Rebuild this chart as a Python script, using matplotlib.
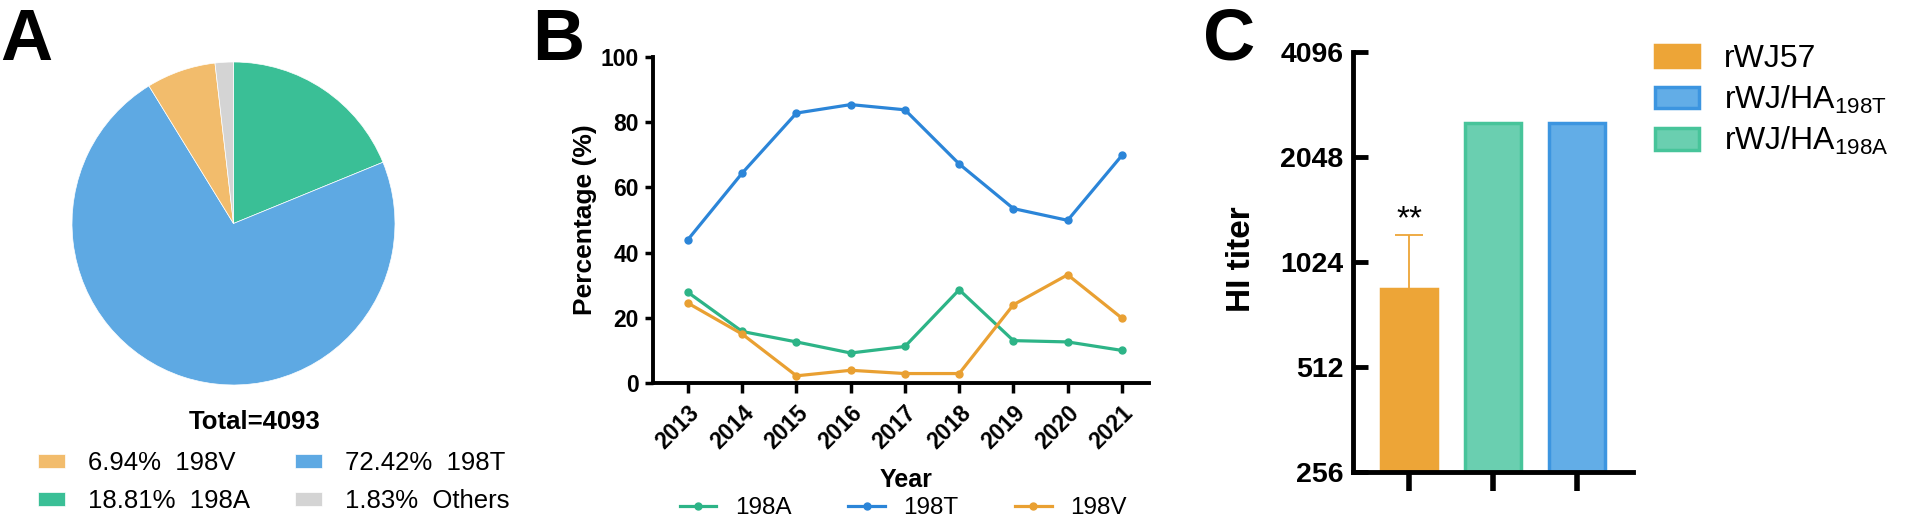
import matplotlib
matplotlib.use('Agg')
from matplotlib import pyplot as plt
from matplotlib.ticker import NullLocator

plt.rcParams['font.family'] = ['Liberation Sans', 'DejaVu Sans']
plt.rcParams['mathtext.default'] = 'regular'

# panel A - share of residue 198 variants
pie_names = ['198A', '198T', '198V', 'Others']
pie_pct = [18.81, 72.42, 6.94, 1.83]
pie_colors = ['#3abf96', '#5ea9e3', '#f2bc6c', '#d4d4d4']
total_n = 4093

# panel B - yearly percentage
years = [2013, 2014, 2015, 2016, 2017, 2018, 2019, 2020, 2021]
pct_198A = [27.8, 15.8, 12.6, 9.2, 11.2, 28.6, 13.0, 12.6, 10.0]
pct_198T = [44.0, 64.4, 82.8, 85.4, 83.8, 67.2, 53.5, 49.9, 69.8]
pct_198V = [24.5, 15.0, 2.2, 3.9, 2.9, 2.9, 24.0, 33.2, 19.9]

# panel C - HI titers
viruses = ['rWJ57', 'rWJ/HA$_{198A}$', 'rWJ/HA$_{198T}$']
hi_mean = [853, 2560, 2560]
hi_sd = [366, 0, 0]
hi_ticks = [256, 512, 1024, 2048, 4096]

W, H = 1908, 521
def fx(px):
    return px / W
def fy(py):
    return 1 - py / H

fig = plt.figure(figsize=(W / 100, H / 100), dpi=100)

# ---------- A ----------
ax_a = fig.add_axes([fx(72), fy(385), 323 / W, 323 / H])
wedges, _ = ax_a.pie(pie_pct, colors=pie_colors, startangle=90, counterclock=False,
                     wedgeprops=dict(edgecolor='white', linewidth=0.5))
ax_a.set_xlim(-1, 1)
ax_a.set_ylim(-1, 1)
fig.text(fx(255), fy(422), 'Total=%d' % total_n, ha='center', va='center',
         fontsize=18.5, fontweight='bold')
order = [2, 0, 1, 3]
fig.legend([wedges[i] for i in order],
           ['%.2f%%  %s' % (pie_pct[i], pie_names[i]) for i in order],
           loc='upper left', bbox_to_anchor=(fx(38), fy(451)), ncol=2, frameon=False,
           fontsize=18.5, handlelength=1.05, handleheight=0.47, handletextpad=0.9,
           columnspacing=1.75, labelspacing=0.55, borderpad=0, borderaxespad=0)

# ---------- B ----------
ax_b = fig.add_axes([fx(653), fy(383), 496 / W, 326 / H])
line_cols = {'198A': '#2db487', '198T': '#2b85d8', '198V': '#e9a032'}
for name, vals in [('198A', pct_198A), ('198T', pct_198T), ('198V', pct_198V)]:
    ax_b.plot(years, vals, color=line_cols[name], lw=2.3, marker='o', ms=5, label=name)
ax_b.set_xlim(2012.355, 2021.5)
ax_b.set_ylim(0, 100)
ax_b.set_yticks([0, 20, 40, 60, 80, 100])
ax_b.set_xticks(years)
for s in ['top', 'right']:
    ax_b.spines[s].set_visible(False)
for s in ['left', 'bottom']:
    ax_b.spines[s].set_linewidth(2.8)
ax_b.tick_params(axis='y', length=6, width=2.5, pad=4, labelsize=16.5)
ax_b.tick_params(axis='x', length=7, width=2.5, pad=6, labelsize=16.5)
for lab in ax_b.get_yticklabels():
    lab.set_fontweight('bold')
for lab in ax_b.get_xticklabels():
    lab.set_fontweight('bold')
    lab.set_rotation(45)
    lab.set_ha('right')
    lab.set_va('top')
    lab.set_rotation_mode('anchor')
ax_b.set_ylabel('Percentage (%)', fontsize=19, fontweight='bold')
ax_b.yaxis.set_label_coords(-0.113, 0.5)
ax_b.set_xlabel('Year', fontsize=18, fontweight='bold', va='top')
ax_b.xaxis.set_label_coords(0.51, -0.261)
ax_b.legend(loc='center left', bbox_to_anchor=(fx(680), fy(508)),
            bbox_transform=fig.transFigure, ncol=3, frameon=False, fontsize=17.5,
            handlelength=1.5, handletextpad=0.75, columnspacing=2.35,
            borderpad=0, borderaxespad=0)

# ---------- C ----------
ax_c = fig.add_axes([fx(1353), fy(471.7), 280 / W, 420 / H])
ax_c.set_yscale('log', base=2)
bar_face = ['#eda537', '#6acfb0', '#62ade7']
bar_edge = ['#eda537', '#47c49a', '#3c95e0']
base = hi_ticks[0]
handles = []
for i, v in enumerate(viruses):
    b = ax_c.bar(i, hi_mean[i] - base, bottom=base, width=0.67, color=bar_face[i],
                 edgecolor=bar_edge[i], linewidth=2.5, label=v)
    handles.append(b)
ax_c.errorbar(0, hi_mean[0], yerr=[[0], [hi_sd[0]]], fmt='none', ecolor='#eda537',
              elinewidth=1.3, capsize=10, capthick=1.3)
ax_c.annotate('**', xy=(0, hi_mean[0] + hi_sd[0]), xytext=(0, 5),
              textcoords='offset points', ha='center', va='baseline', fontsize=24)
ax_c.set_xlim(-0.667, 2.667)
ax_c.set_ylim(hi_ticks[0], hi_ticks[-1])
ax_c.set_yticks(hi_ticks)
ax_c.set_yticklabels([str(t) for t in hi_ticks])
ax_c.yaxis.set_minor_locator(NullLocator())
ax_c.set_xticks(range(len(viruses)))
ax_c.set_xticklabels([])
for s in ['top', 'right']:
    ax_c.spines[s].set_visible(False)
for s in ['left', 'bottom']:
    ax_c.spines[s].set_linewidth(3.5)
ax_c.tick_params(axis='y', direction='in', length=11, width=3.5, pad=7, labelsize=20.5)
ax_c.tick_params(axis='x', direction='out', length=13.5, width=4)
for lab in ax_c.get_yticklabels():
    lab.set_fontweight('bold')
ax_c.set_ylabel('HI titer', fontsize=24, fontweight='bold')
ax_c.yaxis.set_label_coords(-0.343, 0.507)
leg_order = [0, 2, 1]
ax_c.legend([handles[i] for i in leg_order], [viruses[i] for i in leg_order],
            loc='upper left', bbox_to_anchor=(fx(1655), fy(44)),
            bbox_transform=fig.transFigure, frameon=False, fontsize=23,
            handlelength=1.38, handleheight=0.67, handletextpad=0.77,
            labelspacing=0.3, borderpad=0, borderaxespad=0)

# panel letters
for letter, px in [('A', 0), ('B', 532), ('C', 1203)]:
    fig.text(fx(px), fy(60), letter, fontsize=52, fontweight='bold', va='baseline')

fig.savefig('out.png', dpi=100)
